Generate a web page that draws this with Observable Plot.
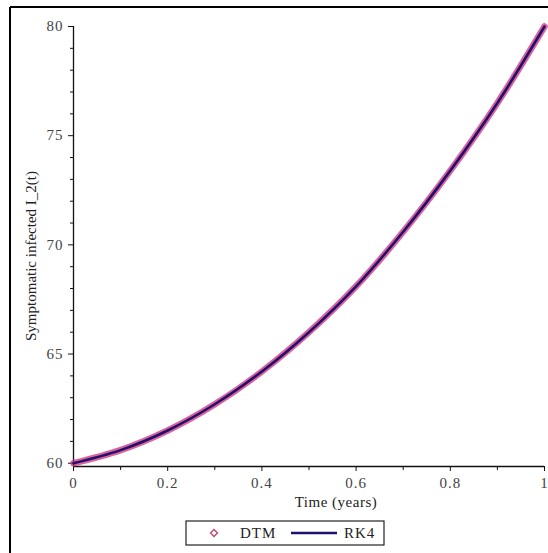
<!DOCTYPE html>
<html>
<head>
<meta charset="utf-8">
<script src="https://cdn.jsdelivr.net/npm/d3@7"></script>
<script src="https://cdn.jsdelivr.net/npm/@observablehq/plot@0.6"></script>
<style>
  html, body { margin: 0; padding: 0; background: white; }
  #chart { width: 548px; height: 553px; overflow: hidden; }
</style>
</head>
<body>
<div id="chart"></div>
<script>
// Data
const time = [0, 0.1, 0.2, 0.3, 0.4, 0.5, 0.6, 0.7, 0.8, 0.9, 1.0];
const dtmValues = [60.0, 60.6, 61.5, 62.7, 64.2, 66.0, 68.1, 70.6, 73.4, 76.5, 80.0];
const rk4Values = [60.0, 60.6, 61.5, 62.7, 64.2, 66.0, 68.1, 70.6, 73.4, 76.5, 80.0];
const xTicks = [0, 0.2, 0.4, 0.6, 0.8, 1];
const xMinorTicks = [0.1, 0.3, 0.5, 0.7, 0.9];
const yTicks = [60, 65, 70, 75, 80];
const yMinorTicks = [61, 62, 63, 64, 66, 67, 68, 69, 71, 72, 73, 74, 76, 77, 78, 79];
const seriesNames = ["DTM", "RK4"];
const xLabel = "Time (years)";
const yLabel = "Symptomatic infected I_2(t)";

const dtm = time.map((t, i) => ({t, v: dtmValues[i]}));
const rk4 = time.map((t, i) => ({t, v: rk4Values[i]}));

const font = "'Liberation Serif', 'DejaVu Serif', serif";
const W = 548, H = 553;

const plot = Plot.plot({
  width: W, height: H,
  marginLeft: 73, marginRight: 4, marginTop: 26, marginBottom: 87,
  style: {fontFamily: font, fontSize: "15px", background: "white", color: "#222", overflow: "visible"},
  x: {domain: [0, 1]},
  y: {domain: [59.85, 80]},
  marks: [
    Plot.ruleY([59.85], {stroke: "#111", strokeWidth: 1.3}),
    Plot.ruleX([0], {stroke: "#111", strokeWidth: 1.3}),
    Plot.axisY(yTicks, {tickSize: 5, tickPadding: 5, label: null, fill: "#444", stroke: "#111", tickFormat: d => String(d)}),
    Plot.axisY(yMinorTicks, {tickSize: 3, label: null, stroke: "#111", tickFormat: () => ""}),
    Plot.axisX(xTicks, {tickSize: 5, tickPadding: 6, label: null, fill: "#444", stroke: "#111", tickFormat: d => String(d)}),
    Plot.axisX(xMinorTicks, {tickSize: 4, label: null, stroke: "#111", tickFormat: () => ""}),
    Plot.line(dtm, {x: "t", y: "v", stroke: "#cc2f78", strokeWidth: 6.5, strokeOpacity: 0.75, curve: "catmull-rom"}),
    Plot.line(rk4, {x: "t", y: "v", stroke: "#22106e", strokeWidth: 2.6, curve: "catmull-rom"})
  ]
});

document.getElementById("chart").appendChild(plot);

const svg = d3.select(plot);
svg.selectAll("[aria-label^='y-axis tick label'] text, [aria-label^='x-axis tick label'] text")
  .attr("letter-spacing", "1px");

// outer frame (left and top edges visible)
svg.append("line").attr("x1", 10).attr("x2", 10).attr("y1", 7).attr("y2", H).attr("stroke", "#000").attr("stroke-width", 2);
svg.append("line").attr("x1", 10).attr("x2", W).attr("y1", 7).attr("y2", 7).attr("stroke", "#000").attr("stroke-width", 2);

// axis titles
svg.append("text").attr("x", 336).attr("y", 507).attr("text-anchor", "middle").attr("letter-spacing", "0.5px")
  .attr("font-family", font).attr("font-size", 15).attr("fill", "#222").text(xLabel);
svg.append("text").attr("transform", "translate(36,256) rotate(-90)").attr("text-anchor", "middle")
  .attr("font-family", font).attr("font-size", 15).attr("fill", "#222").text(yLabel);

// legend
const lg = svg.append("g");
lg.append("rect").attr("x", 186).attr("y", 521).attr("width", 198).attr("height", 24)
  .attr("fill", "white").attr("stroke", "#222").attr("stroke-width", 1.2);
lg.append("path").attr("d", "M214,529.5 L217.5,533 L214,536.5 L210.5,533 Z")
  .attr("fill", "none").attr("stroke", "#c8406a").attr("stroke-width", 1.3);
lg.append("text").attr("x", 240).attr("y", 538).attr("text-anchor", "start").attr("letter-spacing", "1px")
  .attr("font-family", font).attr("font-size", 15).attr("fill", "#222").text(seriesNames[0]);
lg.append("line").attr("x1", 291).attr("x2", 337).attr("y1", 533).attr("y2", 533).attr("stroke", "#1c1270").attr("stroke-width", 2.4);
lg.append("text").attr("x", 344).attr("y", 538).attr("text-anchor", "start").attr("letter-spacing", "1px")
  .attr("font-family", font).attr("font-size", 15).attr("fill", "#222").text(seriesNames[1]);
</script>
</body>
</html>
